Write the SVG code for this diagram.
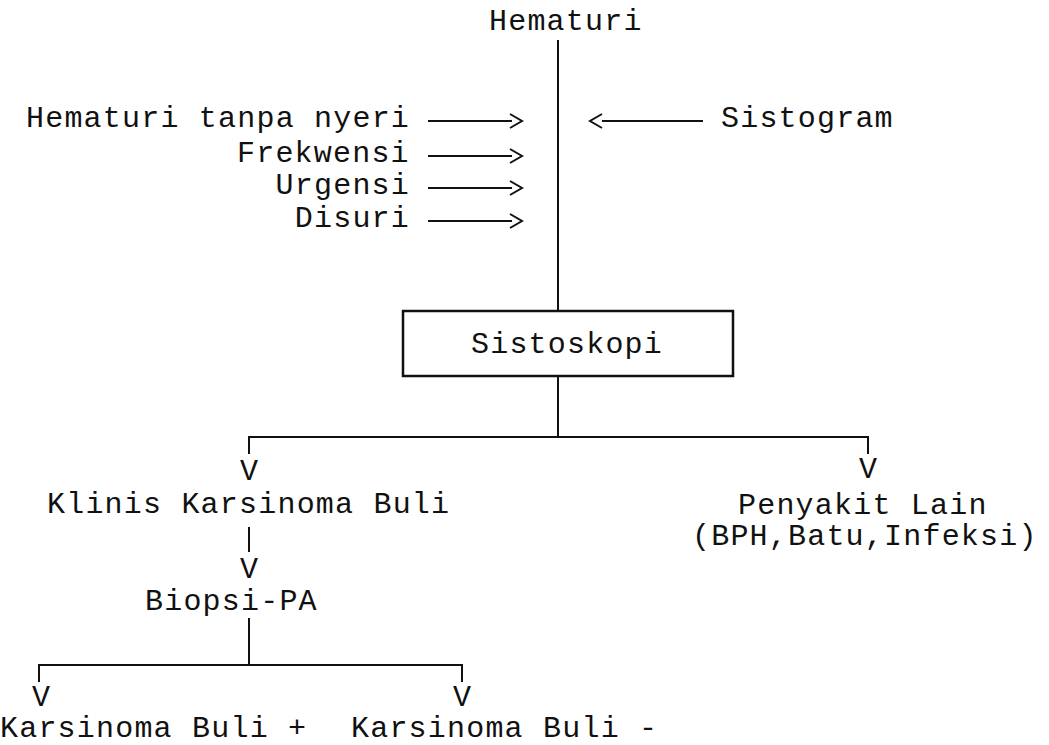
<svg xmlns="http://www.w3.org/2000/svg" width="1049" height="745" viewBox="0 0 1049 745">
<style>
text{font-family:"Liberation Mono","DejaVu Sans Mono",monospace;font-size:30px;letter-spacing:1.2px;fill:#111}
.c{letter-spacing:0;text-anchor:middle}
.ln{stroke:#111;stroke-width:2;fill:none}
.ah{stroke:#111;stroke-width:2;fill:none;stroke-linejoin:miter}
.box{stroke:#111;stroke-width:2.5;fill:#fff}
</style>
<rect width="1049" height="745" fill="#fff"/>
<g id="connectors">
<line class="ln" x1="558" y1="40" x2="558" y2="311"/>
<line class="ln" x1="558" y1="376" x2="558" y2="437"/>
<polyline class="ln" points="249,454 249,437 868,437 868,454"/>
<line class="ln" x1="249" y1="527" x2="249" y2="552"/>
<line class="ln" x1="249" y1="618" x2="249" y2="665"/>
<polyline class="ln" points="39,682 39,665 462,665 462,682"/>
<line class="ln" x1="428" y1="121" x2="512" y2="121"/>
<line class="ln" x1="428" y1="156" x2="512" y2="156"/>
<line class="ln" x1="428" y1="188" x2="512" y2="188"/>
<line class="ln" x1="428" y1="221" x2="512" y2="221"/>
<line class="ln" x1="602" y1="121" x2="703" y2="121"/>
<polyline class="ah" points="510,114 522,121 510,128"/>
<polyline class="ah" points="510,149 522,156 510,163"/>
<polyline class="ah" points="510,181 522,188 510,195"/>
<polyline class="ah" points="510,214 522,221 510,228"/>
<polyline class="ah" points="602,114 590,121 602,128"/>
<text class="c" x="249" y="480">V</text>
<text class="c" x="868" y="478">V</text>
<text class="c" x="249" y="578">V</text>
<text class="c" x="41" y="706">V</text>
<text class="c" x="462" y="706">V</text>
</g>
<g id="hematuri"><text x="489" y="30">Hematuri</text></g>
<g id="gejala">
<text x="26" y="127">Hematuri tanpa nyeri</text>
<text x="237" y="162">Frekwensi</text>
<text x="275.6" y="194">Urgensi</text>
<text x="294.8" y="227">Disuri</text>
</g>
<g id="sistogram"><text x="721" y="127">Sistogram</text></g>
<g id="sistoskopi">
<rect class="box" x="403" y="311" width="330" height="65"/>
<text x="471" y="353">Sistoskopi</text>
</g>
<g id="klinis"><text x="47" y="513">Klinis Karsinoma Buli</text></g>
<g id="penyakit-lain">
<text x="738" y="514">Penyakit Lain</text>
<text x="692" y="545">(BPH,Batu,Infeksi)</text>
</g>
<g id="biopsi"><text x="145" y="610">Biopsi-PA</text></g>
<g id="karsinoma-pos"><text x="0" y="737">Karsinoma Buli +</text></g>
<g id="karsinoma-neg"><text x="351" y="737">Karsinoma Buli -</text></g>
</svg>
